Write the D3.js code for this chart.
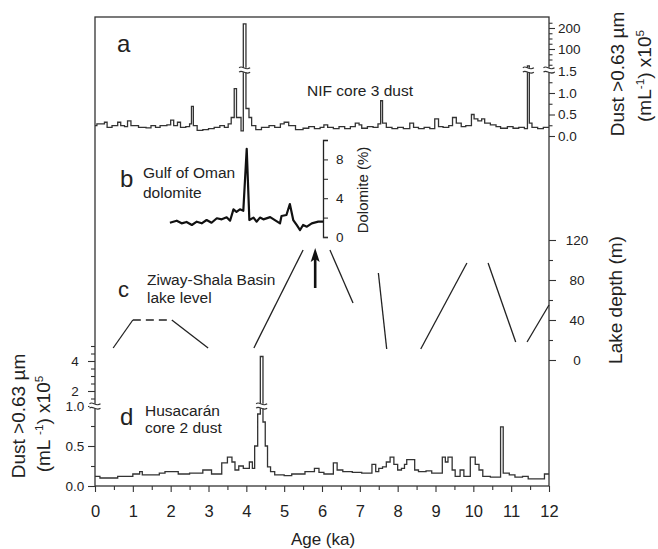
<!DOCTYPE html>
<html>
<head>
<meta charset="utf-8">
<script src="https://d3js.org/d3.v7.min.js"></script>
<style>
body { margin: 0; background: #fff; }
text { font-family: "Liberation Sans", Arial, sans-serif; fill: #222; }
.tick line { stroke: #333; }
.tick text { font-size: 13.5px; fill: #222; }
</style>
</head>
<body>
<svg id="chart" width="658" height="549"></svg>
<script>
/*
Panel a: NIF core 3 dust (x10^5 per mL), step record
*/
var nifAge = [0.0, 0.05, 0.25, 0.32, 0.45, 0.6, 0.68, 0.78, 0.86, 0.95,
	1.15, 1.35, 1.48, 1.6, 1.72, 1.9, 2.0, 2.08, 2.18, 2.26,
	2.4, 2.5, 2.55, 2.6, 2.7, 2.85, 3.0, 3.15, 3.3, 3.42,
	3.52, 3.6, 3.68, 3.74, 3.86, 3.92, 3.99, 4.07, 4.14, 4.25,
	4.4, 4.6, 4.75, 4.9, 5.0, 5.12, 5.3, 5.5, 5.65, 5.8,
	5.95, 6.05, 6.15, 6.3, 6.45, 6.6, 6.75, 6.88, 6.98, 7.05,
	7.2, 7.35, 7.48, 7.55, 7.6, 7.7, 7.85, 8.0, 8.15, 8.32,
	8.42, 8.55, 8.7, 8.85, 8.98, 9.08, 9.2, 9.35, 9.45, 9.55,
	9.68, 9.8, 9.95, 10.02, 10.12, 10.22, 10.3, 10.45, 10.6, 10.72,
	10.9, 11.05, 11.2, 11.35, 11.43, 11.48, 11.55, 11.7, 11.85, 12.0];
var nifDust = [0.24, 0.28, 0.32, 0.2, 0.24, 0.32, 0.24, 0.22, 0.35, 0.24,
	0.2, 0.19, 0.24, 0.2, 0.24, 0.26, 0.37, 0.24, 0.32, 0.2,
	0.22, 0.28, 0.69, 0.24, 0.13, 0.15, 0.17, 0.2, 0.24, 0.2,
	0.28, 0.43, 1.1, 0.43, 0.12, 220, 0.64, 0.43, 0.24, 0.15,
	0.2, 0.24, 0.2, 0.28, 0.32, 0.24, 0.15, 0.18, 0.22, 0.17,
	0.2, 0.26, 0.2, 0.17, 0.22, 0.17, 0.22, 0.3, 0.26, 0.18,
	0.22, 0.2, 0.28, 0.82, 0.3, 0.2, 0.17, 0.2, 0.17, 0.3,
	0.2, 0.17, 0.2, 0.17, 0.4, 0.22, 0.2, 0.24, 0.43, 0.3,
	0.22, 0.24, 0.5, 0.4, 0.35, 0.4, 0.3, 0.26, 0.22, 0.18,
	0.22, 0.18, 0.2, 0.17, 20, 0.3, 0.2, 0.17, 0.2, 0.2];
var nifTicksLow = [0, 0.5, 1.0, 1.5];
var nifMinorLow = [0.25, 0.75, 1.25];
var nifTicksHigh = [100, 200];
var nifMinorHigh = [25, 50, 75, 125, 150, 175, 225];
var nifBreakAges = [3.955, 11.455];

/*
Panel b: Gulf of Oman dolomite (%)
*/
var gulfAge = [1.98, 2.16, 2.29, 2.42, 2.56, 2.69, 2.82, 2.95, 3.08, 3.22,
	3.35, 3.48, 3.57, 3.66, 3.74, 3.83, 3.92, 4.01, 4.08, 4.19,
	4.27, 4.36, 4.45, 4.63, 4.89, 4.93, 5.06, 5.15, 5.24, 5.33,
	5.42, 5.5, 5.6, 5.73, 5.9, 6.03];
var gulfDolomite = [1.47, 1.68, 1.41, 1.55, 1.24, 1.58, 1.41, 1.75, 1.47, 1.93,
	1.82, 2.03, 1.68, 2.85, 2.6, 2.85, 2.7, 9.1, 1.75, 2.0,
	1.58, 2.0, 1.82, 2.05, 1.41, 2.16, 2.27, 3.4, 1.75, 1.24,
	0.72, 1.24, 1.06, 1.41, 1.58, 1.58];
var gulfTicks = [0, 4, 8];
var gulfMinor = [2, 6, 10];

/*
Panel c: Ziway-Shala lake level segments (age ka, depth m)
*/
var lakeSegAge = [[0.48, 1.0], [1.0, 1.98], [2.03, 2.99], [4.2, 5.5], [6.21, 6.82],
	[7.49, 7.71], [8.61, 9.83], [10.39, 11.12], [11.42, 12.0]];
var lakeSegDepth = [[12, 40], [40, 40], [40, 12], [12, 110], [110, 57],
	[87, 11], [11, 97], [97, 18], [18, 55]];
var lakeUncertain = [1];
var lakeTicks = [0, 40, 80, 120];
var lakeMinor = [20, 60, 100];
var arrowAge = 5.82;
var arrowDepth = [72, 112];

/*
Panel d: Husacaran core 2 dust (x10^5 per mL)
*/
var husAge = [0, 0.13, 0.6, 1.0, 1.18, 1.25, 1.7, 1.85, 2.2, 2.5,
	2.85, 3.08, 3.35, 3.5, 3.62, 3.7, 3.8, 3.92, 4.08, 4.16,
	4.22, 4.3, 4.37, 4.44, 4.5, 4.56, 4.64, 4.75, 5.0, 5.2,
	5.55, 5.8, 5.92, 6.05, 6.3, 6.4, 6.55, 6.8, 7.05, 7.32,
	7.42, 7.5, 7.6, 7.7, 7.8, 7.9, 8.0, 8.1, 8.18, 8.24,
	8.45, 8.55, 8.75, 8.9, 9.18, 9.26, 9.33, 9.44, 9.52, 9.65,
	9.75, 9.92, 10.05, 10.15, 10.25, 10.45, 10.72, 10.79, 10.95, 11.1,
	11.3, 11.45, 11.88, 12.0];
var husDust = [0.12, 0.1, 0.12, 0.15, 0.18, 0.14, 0.16, 0.18, 0.15, 0.16,
	0.2, 0.15, 0.29, 0.36, 0.3, 0.2, 0.25, 0.22, 0.3, 0.22,
	0.5, 0.9, 4.3, 0.8, 0.5, 0.24, 0.18, 0.14, 0.13, 0.15,
	0.18, 0.22, 0.17, 0.15, 0.29, 0.2, 0.18, 0.17, 0.16, 0.27,
	0.18, 0.22, 0.24, 0.3, 0.36, 0.27, 0.2, 0.22, 0.27, 0.33,
	0.2, 0.18, 0.19, 0.16, 0.36, 0.3, 0.36, 0.2, 0.12, 0.2,
	0.12, 0.36, 0.27, 0.2, 0.12, 0.11, 0.74, 0.16, 0.14, 0.11,
	0.12, 0.09, 0.15, 0.15];
var husTicksLow = [0, 0.5, 1.0];
var husMinorLow = [0.25, 0.75];
var husTicksHigh = [2, 4];
var husMinorHigh = [1.5, 2.5, 3, 3.5, 4.5, 5];
var husBreakAges = [4.405];

var ageTicks = d3.range(0, 13, 1);
var ageMinor = d3.range(0.5, 12, 1);

var svg = d3.select("#chart");
var FONT = "'Liberation Sans', Arial, sans-serif";

/*
Scales
*/
var x = d3.scaleLinear().domain([0, 12]).range([95, 549]);
var aLow = d3.scaleLinear().domain([0, 1.5]).range([136, 71.5]);
var aHigh = d3.scaleLinear().domain([0, 200]).range([70, 28]);
var yA = function(v) { return v <= 1.5 ? aLow(v) : aHigh(v); };
var yB = d3.scaleLinear().domain([0, 10]).range([237, 140]);
var yC = d3.scaleLinear().domain([0, 120]).range([360, 240]);
var dLow = d3.scaleLinear().domain([0, 1]).range([486, 406]);
var dHigh = d3.scaleLinear().domain([1, 5]).range([406, 346]);
var yD = function(v) { return v <= 1 ? dLow(v) : dHigh(v); };

/*
Axis helper: draws ticks, drops the domain line (frame does it)
*/
function axis(gen, tx, ty, keepDomain) {
	var g = svg.append("g").attr("transform", "translate(" + tx + "," + ty + ")").call(gen);
	if (!keepDomain) g.select(".domain").remove();
	else g.select(".domain").attr("stroke", "#222").attr("stroke-width", 1.3);
	g.selectAll(".tick line").attr("stroke-width", 1.1);
	return g;
}

// bottom age axis
axis(d3.axisBottom(x).tickValues(ageMinor).tickSize(4).tickFormat(""), 0, 486);
var gx = axis(d3.axisBottom(x).tickValues(ageTicks).tickSize(6).tickPadding(13).tickFormat(d3.format("d")), 0, 486);
gx.selectAll("text").style("font-size", "16.5px");

// panel a right axis (broken)
axis(d3.axisRight(aLow).tickValues(nifMinorLow).tickSize(3.5).tickFormat(""), 549, 0);
axis(d3.axisRight(aLow).tickValues(nifTicksLow).tickSize(6).tickPadding(3).tickFormat(d3.format(".1f")), 549, 0);
axis(d3.axisRight(aHigh).tickValues(nifMinorHigh).tickSize(3.5).tickFormat(""), 549, 0);
axis(d3.axisRight(aHigh).tickValues(nifTicksHigh).tickSize(6).tickPadding(3).tickFormat(d3.format("d")), 549, 0);

// panel b dolomite axis
axis(d3.axisRight(yB).tickValues(gulfMinor).tickSize(5).tickFormat(""), 323, 0);
axis(d3.axisRight(yB).tickValues(gulfTicks).tickSize(5).tickSizeOuter(5).tickPadding(8).tickFormat(d3.format("d")), 323, 0, true);

// panel c lake depth axis
axis(d3.axisRight(yC).tickValues(lakeMinor).tickSize(4).tickFormat(""), 549, 0);
axis(d3.axisRight(yC).tickValues(lakeTicks).tickSize(7).tickFormat(d3.format("d")), 549, 0)
	.selectAll("text").attr("text-anchor", "middle").attr("x", 28);

// panel d left axis (broken)
axis(d3.axisLeft(dLow).tickValues(husMinorLow).tickSize(4).tickFormat(""), 95, 0);
axis(d3.axisLeft(dLow).tickValues(husTicksLow).tickSize(7).tickFormat(d3.format(".1f")), 95, 0)
	.selectAll("text").attr("text-anchor", "middle").attr("x", -20);
axis(d3.axisLeft(dHigh).tickValues(husMinorHigh).tickSize(4).tickFormat(""), 95, 0);
axis(d3.axisLeft(dHigh).tickValues(husTicksHigh).tickSize(7).tickFormat(d3.format("d")), 95, 0)
	.selectAll("text").attr("text-anchor", "middle").attr("x", -20);

/*
Frame
*/
svg.append("rect").attr("x", x(0)).attr("y", 17).attr("width", x(12) - x(0)).attr("height", 486 - 17)
	.attr("fill", "none").attr("stroke", "#333").attr("stroke-width", 1.3);

/*
Data lines
*/
function series(ages, vals, yFn, curve) {
	return d3.line().curve(curve).x(function(i) { return x(ages[i]); }).y(function(i) { return yFn(vals[i]); })(d3.range(ages.length));
}
svg.append("path").attr("d", series(nifAge, nifDust, yA, d3.curveStepAfter))
	.attr("fill", "none").attr("stroke", "#333").attr("stroke-width", 1.3);
svg.append("path").attr("d", series(gulfAge, gulfDolomite, yB, d3.curveLinear))
	.attr("fill", "none").attr("stroke", "#111").attr("stroke-width", 2.2).attr("stroke-linejoin", "round");
svg.append("path").attr("d", series(husAge, husDust, yD, d3.curveStepAfter))
	.attr("fill", "none").attr("stroke", "#333").attr("stroke-width", 1.3);

lakeSegAge.forEach(function(a, i) {
	svg.append("line")
		.attr("x1", x(a[0])).attr("y1", yC(lakeSegDepth[i][0]))
		.attr("x2", x(a[1])).attr("y2", yC(lakeSegDepth[i][1]))
		.attr("stroke", "#222").attr("stroke-width", 1.3)
		.attr("stroke-dasharray", lakeUncertain.indexOf(i) >= 0 ? "8,5" : null);
});

// arrow
var ax = x(arrowAge), ay0 = yC(arrowDepth[0]), ay1 = yC(arrowDepth[1]);
svg.append("line").attr("x1", ax).attr("y1", ay0).attr("x2", ax).attr("y2", ay1 + 10)
	.attr("stroke", "#111").attr("stroke-width", 2.6);
svg.append("path").attr("d", "M" + ax + "," + ay1 + " L" + (ax - 4.5) + "," + (ay1 + 14) + " L" + ax + "," + (ay1 + 11) + " L" + (ax + 4.5) + "," + (ay1 + 14) + " Z")
	.attr("fill", "#111");

/*
Break marks
*/
function drawBreak(cx, cy) {
	var g = svg.append("g");
	g.append("rect").attr("x", cx - 5.5).attr("y", cy - 2.2).attr("width", 11).attr("height", 4.4).attr("fill", "#fff");
	[-2.2, 2.2].forEach(function(off) {
		g.append("path").attr("d", "M" + (cx - 5.5) + "," + (cy + off) + " c3,-3.5 6,3.5 11,0")
			.attr("fill", "none").attr("stroke", "#333").attr("stroke-width", 1.1);
	});
}
drawBreak(549, aHigh(0));
nifBreakAges.forEach(function(a) { drawBreak(x(a), aHigh(0)); });
drawBreak(95, dLow(1));
husBreakAges.forEach(function(a) { drawBreak(x(a), dLow(1)); });

/*
Labels
*/
function label(txt, lx, ly, size, anchor) {
	return svg.append("text").attr("x", lx).attr("y", ly).attr("font-size", size + "px")
		.attr("text-anchor", anchor || "start").text(txt);
}
label("a", 117, 52, 24);
label("NIF core 3 dust", 307, 96, 15.5);
label("b", 120, 187, 24);
label("Gulf of Oman", 143, 178, 15.5);
label("dolomite", 143, 198, 15.5);
label("c", 118, 297, 22);
label("Ziway-Shala Basin", 147, 285, 15.5);
label("lake level", 147, 303, 15.5);
label("d", 120, 425, 24);
label("Husacarán", 145, 416, 15.5);
label("core 2 dust", 145, 433, 15.5);
label("Age (ka)", 323, 545, 17, "middle");

function rotLabel(cx, cy, size) {
	return svg.append("text").attr("transform", "translate(" + cx + "," + cy + ") rotate(-90)")
		.attr("font-size", size + "px").attr("text-anchor", "middle");
}
rotLabel(368, 190, 15).text("Dolomite (%)");
rotLabel(622, 300, 19).text("Lake depth (m)");

function unitLabel(cx, cy, size, gap) {
	var t = rotLabel(cx, cy, size);
	t.append("tspan").text("(mL" + gap);
	t.append("tspan").attr("font-size", (size * 0.62) + "px").attr("dy", -size * 0.38).text("-1");
	t.append("tspan").attr("dy", size * 0.38).text(") x10");
	t.append("tspan").attr("font-size", (size * 0.62) + "px").attr("dy", -size * 0.38).text("5");
	return t;
}
rotLabel(624, 74, 19).text("Dust >0.63 µm");
unitLabel(651, 76, 19, "");
rotLabel(25, 416, 19).text("Dust >0.63 µm");
unitLabel(50, 424, 19, " ");
</script>
</body>
</html>
